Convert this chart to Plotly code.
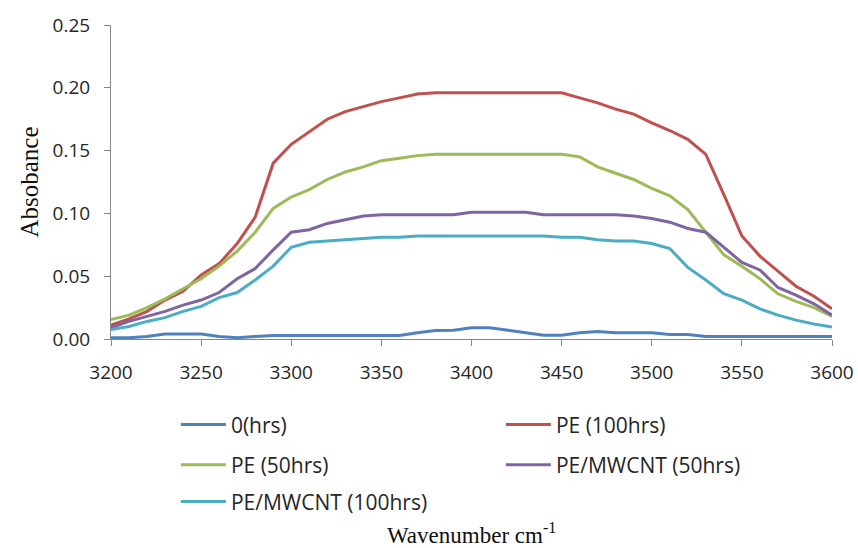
import plotly.graph_objects as go

# Wavenumber grid (cm^-1)
wavenumber = list(range(3200, 3601, 10))

# Absorbance readings for each sample
abs_0h = [0.001, 0.001, 0.002, 0.004, 0.004, 0.004, 0.002, 0.001, 0.002, 0.0027,
          0.0027, 0.0027, 0.0027, 0.0027, 0.0028, 0.0028, 0.0028, 0.005, 0.0068, 0.007,
          0.009, 0.009, 0.007, 0.005, 0.003, 0.003, 0.005, 0.006, 0.005, 0.005,
          0.005, 0.0035, 0.0035, 0.002, 0.002, 0.002, 0.002, 0.002, 0.002, 0.002,
          0.002]
abs_pe_100h = [0.011, 0.016, 0.022, 0.031, 0.038, 0.051, 0.060, 0.076, 0.097, 0.140,
               0.155, 0.165, 0.175, 0.181, 0.185, 0.189, 0.192, 0.195, 0.196, 0.196,
               0.196, 0.196, 0.196, 0.196, 0.196, 0.196, 0.192, 0.188, 0.183, 0.179,
               0.172, 0.166, 0.159, 0.147, 0.115, 0.082, 0.066, 0.054, 0.042, 0.034,
               0.024]
abs_pe_50h = [0.0155, 0.019, 0.025, 0.032, 0.040, 0.048, 0.058, 0.070, 0.085, 0.104,
              0.113, 0.119, 0.127, 0.133, 0.137, 0.142, 0.144, 0.146, 0.147, 0.147,
              0.147, 0.147, 0.147, 0.147, 0.147, 0.147, 0.145, 0.137, 0.132, 0.127,
              0.120, 0.114, 0.103, 0.085, 0.067, 0.058, 0.048, 0.036, 0.030, 0.025,
              0.018]
abs_cnt_50h = [0.009, 0.014, 0.018, 0.022, 0.027, 0.031, 0.037, 0.048, 0.056, 0.071,
               0.085, 0.087, 0.092, 0.095, 0.098, 0.099, 0.099, 0.099, 0.099, 0.099,
               0.101, 0.101, 0.101, 0.101, 0.099, 0.099, 0.099, 0.099, 0.099, 0.098,
               0.096, 0.093, 0.088, 0.085, 0.073, 0.061, 0.055, 0.041, 0.035, 0.028,
               0.019]
abs_cnt_100h = [0.0075, 0.010, 0.014, 0.017, 0.022, 0.026, 0.033, 0.037, 0.047, 0.058,
                0.073, 0.077, 0.078, 0.079, 0.080, 0.081, 0.081, 0.082, 0.082, 0.082,
                0.082, 0.082, 0.082, 0.082, 0.082, 0.081, 0.081, 0.079, 0.078, 0.078,
                0.076, 0.072, 0.057, 0.047, 0.036, 0.031, 0.024, 0.019, 0.015, 0.012,
                0.0095]

series_names = ["0(hrs)", "PE (100hrs)", "PE (50hrs)", "PE/MWCNT (50hrs)", "PE/MWCNT (100hrs)"]
series_values = [abs_0h, abs_pe_100h, abs_pe_50h, abs_cnt_50h, abs_cnt_100h]
series_colors = ["#4F81BD", "#C0504D", "#9BBB59", "#8064A2", "#4BACC6"]
# legend rows: two entries per row
series_legend = ["legend", "legend", "legend2", "legend2", "legend3"]

fig = go.Figure()
for name, vals, col, leg in zip(series_names, series_values, series_colors, series_legend):
    fig.add_trace(go.Scatter(
        x=wavenumber, y=vals, name=name, mode="lines",
        line=dict(color=col, width=3), legend=leg,
    ))

tick_font = dict(family="Open Sans", size=19, color="#262626")
axis_gray = "#868686"

legend_common = dict(
    orientation="h", xanchor="left", yanchor="middle",
    xref="container", yref="container",
    x=0.205, entrywidth=265, itemwidth=45,
    font=dict(family="Open Sans", size=21, color="#262626"),
    bgcolor="rgba(0,0,0,0)", tracegroupgap=0,
)

fig.update_layout(
    width=858, height=548,
    margin=dict(l=111, r=26, t=25, b=208.5, autoexpand=False),
    paper_bgcolor="white", plot_bgcolor="white",
    showlegend=True,
    legend=dict(legend_common, y=0.2245),
    legend2=dict(legend_common, y=0.1515),
    legend3=dict(legend_common, y=0.084),
    xaxis=dict(
        range=[3200, 3600], dtick=50, tick0=3200,
        showline=True, linecolor=axis_gray, linewidth=1,
        ticks="outside", ticklen=6, tickcolor=axis_gray,
        showgrid=False, zeroline=False, tickfont=tick_font,
        ticklabelstandoff=10, automargin=False,
    ),
    yaxis=dict(
        range=[0, 0.25], dtick=0.05, tickformat=".2f",
        showline=True, linecolor=axis_gray, linewidth=1,
        ticks="outside", ticklen=6, tickcolor=axis_gray,
        showgrid=False, zeroline=False, tickfont=tick_font,
        ticklabelstandoff=10, automargin=False,
        title=dict(text="Absobance",
                   font=dict(family="Liberation Serif", size=25, color="#111111"),
                   standoff=6),
    ),
    annotations=[dict(
        text="Wavenumber cm<sup>-1</sup>",
        xref="paper", yref="paper", x=0.5, y=-0.618,
        xanchor="center", yanchor="middle", showarrow=False,
        font=dict(family="Liberation Serif", size=23, color="#111111"),
    )],
)

fig.write_html("out.html")
